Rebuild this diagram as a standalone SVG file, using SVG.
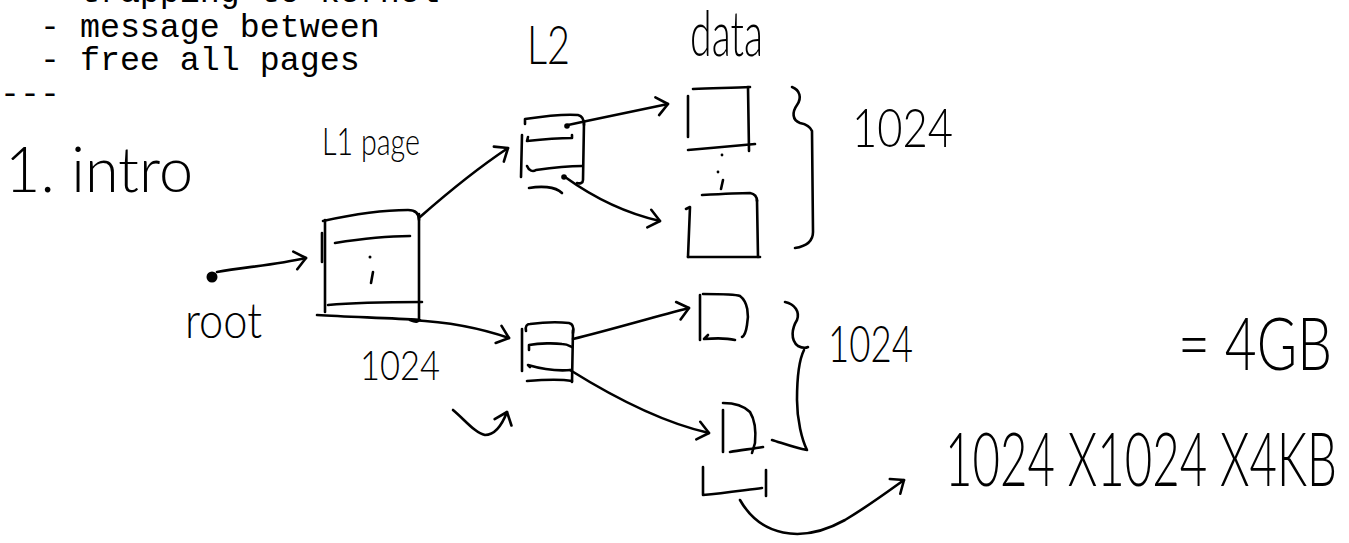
<svg xmlns="http://www.w3.org/2000/svg" width="1349" height="543" viewBox="0 0 1349 543">
  <style>
    .ink { fill: none; stroke: #000; stroke-width: 2.6; stroke-linecap: round; stroke-linejoin: round; }
    .mono { font-family: "Liberation Mono", "DejaVu Sans Mono", monospace; font-size: 33.3px; fill: #000; white-space: pre; }
    .hand { font-family: "Lato", "Liberation Sans", sans-serif; font-weight: 300; fill: #000; }
    .dot { fill: #000; }
  </style>
  <defs>
    <marker id="arrow" markerUnits="userSpaceOnUse" viewBox="0 0 16 22" refX="14" refY="11" markerWidth="16" markerHeight="22" orient="auto">
      <path d="M3,2 L14,11 L3,20" fill="none" stroke="#000" stroke-width="2.6" stroke-linecap="round" stroke-linejoin="round"/>
    </marker>
  </defs>
  <rect width="1349" height="543" fill="#fff"/>

  <g id="notes">
    <text class="mono" x="0" y="2" xml:space="preserve">  - trapping to kernel</text>
    <text class="mono" x="0" y="37" xml:space="preserve">  - message between</text>
    <text class="mono" x="0" y="70" xml:space="preserve">  - free all pages</text>
    <text class="mono" x="0" y="104" font-size="26" xml:space="preserve">---</text>
  </g>

  <g id="title">
    <text class="hand" x="5" y="192" font-size="64" textLength="188" lengthAdjust="spacingAndGlyphs">1. intro</text>
  </g>

  <g id="labels">
    <text class="hand" x="322" y="155" font-size="38" textLength="98" lengthAdjust="spacingAndGlyphs">L1 page</text>
    <text class="hand" x="527" y="64" font-size="54" textLength="43" lengthAdjust="spacingAndGlyphs">L2</text>
    <text class="hand" x="690" y="56" font-size="64" textLength="73" lengthAdjust="spacingAndGlyphs">data</text>
    <text class="hand" x="852" y="147" font-size="54" textLength="101" lengthAdjust="spacingAndGlyphs">1024</text>
    <text class="hand" x="360" y="380" font-size="42" textLength="80" lengthAdjust="spacingAndGlyphs">1024</text>
    <text class="hand" x="828" y="362" font-size="52" textLength="85" lengthAdjust="spacingAndGlyphs">1024</text>
    <text class="hand" x="1178" y="370" font-size="72" textLength="154" lengthAdjust="spacingAndGlyphs">= 4GB</text>
    <text class="hand" x="945" y="486" font-size="74" textLength="392" lengthAdjust="spacingAndGlyphs">1024 X1024 X4KB</text>
  </g>

  <g id="root">
    <circle class="dot" cx="212" cy="277" r="5.5"/>
    <text class="hand" x="185" y="338" font-size="50" textLength="77" lengthAdjust="spacingAndGlyphs">root</text>
  </g>

  <g id="l1-page">
    <path class="ink" d="M323,221 C350,215 385,210 408,210 C416,210 419,214 419,220"/>
    <path class="ink" d="M419,214 L419,318 C419,323 415,322 410,320"/>
    <path class="ink" d="M325,220 L325,312"/>
    <path class="ink" d="M322,233 L322,262"/>
    <path class="ink" d="M335,243 C360,239 390,236 410,236"/>
    <path class="ink" d="M328,305 C360,302 395,302 422,302"/>
    <path class="ink" d="M317,315 C350,317 390,318 420,320"/>
    <circle class="dot" cx="370" cy="257" r="1.5"/>
    <path class="ink" d="M373,272 L371,283"/>
  </g>

  <g id="l2-top">
    <path class="ink" d="M525,124 L525,119 C545,116 565,114 578,115 C583,116 584,120 584,125"/>
    <path class="ink" d="M584,122 L583,180 C583,183 580,184 577,183"/>
    <path class="ink" d="M522,135 L521,177"/>
    <path class="ink" d="M528,137 L527,141 C545,139 560,138 572,138 L572,135"/>
    <path class="ink" d="M527,166 C529,171 533,172 536,170 C550,168 565,166 582,166"/>
    <path class="ink" d="M529,188 C540,186 555,186 562,193"/>
    <circle class="dot" cx="567" cy="126" r="2.8"/>
    <circle class="dot" cx="564" cy="177" r="2.8"/>
  </g>

  <g id="l2-bottom">
    <path class="ink" d="M526,331 C525,326 527,324 530,324 C545,322 560,322 569,323 C573,324 574,328 573,333"/>
    <path class="ink" d="M522,329 L522,371"/>
    <path class="ink" d="M573,330 L572,382"/>
    <path class="ink" d="M529,350 L529,345 C540,343 555,343 562,344 C567,344 570,346 572,347"/>
    <path class="ink" d="M530,367 L528,365 C545,370 560,371 571,370"/>
    <path class="ink" d="M527,381 C540,380 560,379 572,381"/>
  </g>

  <g id="data-1">
    <path class="ink" d="M688,96 L688,137"/>
    <path class="ink" d="M693,89 C715,88 735,88 750,87"/>
    <path class="ink" d="M748,87 L749,151"/>
    <path class="ink" d="M688,150 C710,148 735,146 755,144"/>
  </g>

  <g id="data-ellipsis">
    <circle class="dot" cx="722" cy="155" r="1.4"/>
    <circle class="dot" cx="718" cy="172" r="1.4"/>
    <path class="ink" d="M723,180 L721,189"/>
  </g>

  <g id="data-2">
    <path class="ink" d="M702,195 C720,194 740,193 750,193 C755,194 757,197 757,201"/>
    <path class="ink" d="M757,200 L758,257"/>
    <path class="ink" d="M686,209 L690,207 L688,257"/>
    <path class="ink" d="M688,257 L760,257"/>
  </g>

  <g id="data-3">
    <path class="ink" d="M700,295 L700,340"/>
    <path class="ink" d="M703,294 C720,294 735,294 740,296 C748,302 749,315 747,325 C746,332 744,336 742,337"/>
    <path class="ink" d="M708,335 L704,339 C717,338 727,338 735,340"/>
  </g>

  <g id="data-4">
    <path class="ink" d="M723,410 L723,452"/>
    <path class="ink" d="M723,403 C735,403 745,407 750,412 C755,420 756,432 755,443 L752,453"/>
    <path class="ink" d="M730,452 C740,450 752,449 763,447"/>
  </g>

  <g id="data-more">
    <path class="ink" d="M703,467 L703,495 C725,493 745,490 762,488"/>
    <path class="ink" d="M766,470 L766,496"/>
  </g>

  <g id="brace-1">
    <path class="ink" d="M792,87 C800,90 802,98 797,105 C792,112 792,120 800,123 C805,124 810,126 812,131 L813,232 C813,240 808,246 795,248"/>
  </g>

  <g id="brace-2">
    <path class="ink" d="M785,302 C795,304 800,312 797,320 C792,328 790,340 798,346 C802,348 806,348 808,347"/>
    <path class="ink" d="M804,350 C798,362 797,380 797,400 C797,420 802,440 807,450 C795,448 782,443 772,440"/>
  </g>

  <g id="connectors">
    <path class="ink" marker-end="url(#arrow)" d="M217,272 C245,267 275,265 306,258"/>
    <path class="ink" marker-end="url(#arrow)" d="M420,217 C445,195 475,170 508,148"/>
    <path class="ink" marker-end="url(#arrow)" d="M412,320 C450,322 480,328 509,338"/>
    <path class="ink" marker-end="url(#arrow)" d="M568,125 C600,118 630,112 668,104"/>
    <path class="ink" marker-end="url(#arrow)" d="M565,177 C590,195 620,212 660,221"/>
    <path class="ink" marker-end="url(#arrow)" d="M573,339 C610,330 650,318 689,308"/>
    <path class="ink" marker-end="url(#arrow)" d="M570,370 C610,395 660,422 709,433"/>
    <path class="ink" marker-end="url(#arrow)" d="M740,500 C760,535 800,545 845,520 C870,505 890,490 904,480"/>
    <path class="ink" marker-end="url(#arrow)" d="M453,410 C465,420 475,433 485,435 C495,435 502,425 507,412"/>
  </g>
</svg>
